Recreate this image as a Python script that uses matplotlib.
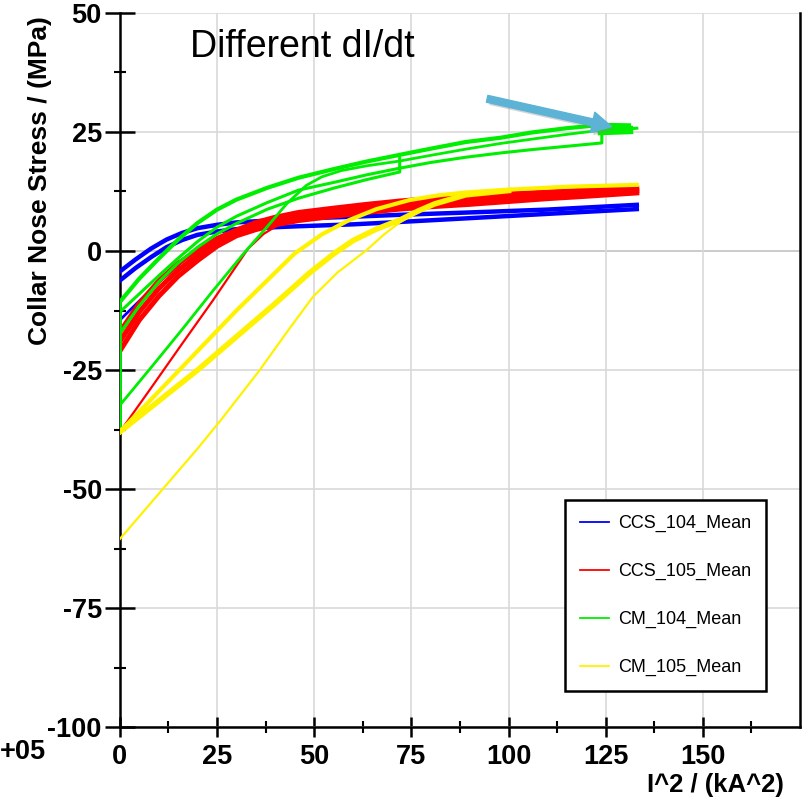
import matplotlib
matplotlib.use("Agg")
import matplotlib.pyplot as plt
from matplotlib.lines import Line2D
from matplotlib.patches import FancyArrowPatch
import matplotlib.patheffects as pe

plt.rcParams['font.family'] = ['Liberation Sans', 'DejaVu Sans']
plt.rcParams['axes.unicode_minus'] = False

# ---- data: x = I^2 (kA^2), y = stress (MPa) ----
# CCS_104 (blue)
ccs104_a_x = [0, 4, 8, 12, 16, 20, 25, 30, 40, 46, 60, 72, 90, 110, 133]
ccs104_a_y = [-4.3, -1.8, 0.5, 2.4, 3.8, 4.8, 5.5, 6.0, 6.5, 6.8, 7.2, 7.6, 8.1, 8.7, 9.7]
ccs104_b_x = [0, 4, 8, 12, 16, 20, 25, 30, 40, 46, 60, 72, 90, 110, 133]
ccs104_b_y = [-6.2, -3.6, -1.3, 0.8, 2.3, 3.4, 4.1, 4.6, 5.0, 5.2, 5.6, 6.1, 6.9, 7.8, 8.8]
ccs104_c_x = [0, 5, 10, 13, 17, 21, 25, 30, 35]
ccs104_c_y = [-14.5, -10.5, -6.5, -4.4, -1.6, 0.8, 2.8, 4.4, 5.2]

# CCS_105 (red)
ccs105_x = [0, 5, 10, 15, 20, 25, 30, 35, 40, 46, 55, 63.5, 72, 80, 90, 100, 110, 120, 133]
ccs105_a_y = [-17, -11, -6.3, -2.6, 0.2, 2.6, 4.4, 6.0, 7.1, 8.1, 9.0, 9.8, 10.5, 11.0, 11.5, 12.0, 12.4, 12.8, 13.2]
ccs105_b_y = [-21, -14.5, -9.5, -5.3, -2.0, 1.0, 3.2, 4.5, 5.5, 6.4, 7.3, 8.1, 8.8, 9.3, 9.8, 10.4, 11.0, 11.5, 12.2]
ccs105_c_y = [-19, -12.8, -7.9, -4.0, -0.9, 1.8, 3.8, 5.3, 6.3, 7.2, 8.1, 8.9, 9.6, 10.1, 10.6, 11.2, 11.7, 12.1, 12.7]
ccs105_thin_x = [0, 8, 16, 24, 33, 37, 41, 46]
ccs105_thin_y = [-38, -28.8, -19.5, -10.3, 0.5, 3.6, 5.6, 6.6]

# CM_104 (green)
cm104_up_x = [0, 5, 10, 15, 20, 25, 30, 38, 46, 55, 63.5, 72, 80, 89, 98, 106, 115, 124, 131]
cm104_up_y = [-10.7, -5.8, -1.6, 2.4, 5.9, 8.7, 10.8, 13.3, 15.4, 17.2, 18.8, 20.2, 21.5, 22.9, 23.8, 24.9, 25.8, 26.5, 26.4]
cm104_down_x = [133, 124, 124, 115, 106, 98, 89, 80, 72, 63.5, 55, 46, 38, 30, 25, 20, 15, 10, 5, 0]
cm104_down_y = [25.8, 25.2, 22.7, 22.0, 21.3, 20.6, 19.7, 18.6, 17.4, 16.0, 14.4, 12.8, 10.2, 7.3, 5.0, 2.0, -1.5, -5.2, -9.0, -12.8]
cm104_jag_x = [0, 5, 10, 15, 20, 25, 30, 38, 46, 55, 63.5, 72, 72]
cm104_jag_y = [-17.3, -11.5, -6.5, -2.5, 0.8, 3.6, 5.8, 8.8, 11.1, 13.2, 15.0, 16.6, 20.2]
cm104_steep_x = [0, 8, 16, 24, 32.6, 37.8, 43, 48, 52, 57, 63.5, 72, 80, 89, 98, 106, 115, 124, 131]
cm104_steep_y = [-32.4, -24.5, -16.5, -8.3, 0.2, 5.0, 10.0, 13.8, 15.6, 16.9, 17.9, 18.9, 20.1, 21.4, 22.6, 23.5, 24.5, 25.4, 25.6]
cm104_axis_x = [0, 0]
cm104_axis_y = [-37, -10.7]
cm104_end_x = [124, 131]
cm104_end_y = [25.2, 25.4]

# CM_105 (yellow)
cm105_up_x = [0, 10, 20, 30, 40, 45, 52, 59, 66, 74.5, 82, 89, 100, 115, 133]
cm105_up_y = [-38, -29.5, -21, -12.5, -4.5, -0.5, 3.5, 6.5, 8.8, 10.7, 11.7, 12.3, 12.9, 13.5, 13.9]
cm105_low_x = [0, 10, 20, 30, 40, 48.8, 55, 60, 66, 72, 77, 81, 89, 100]
cm105_low_y = [-38, -31.5, -25, -18, -11, -4.6, -0.6, 2.2, 4.6, 6.5, 8.5, 9.9, 11.8, 12.7]
cm105_thin_x = [0, 10, 20, 26, 36, 43, 49.6, 56, 63.5, 68, 72, 77]
cm105_thin_y = [-60.5, -51, -41.5, -35.5, -25, -17, -9.7, -4.5, 0.2, 3.5, 6.0, 8.3]

series_names = ['CCS_104_Mean', 'CCS_105_Mean', 'CM_104_Mean', 'CM_105_Mean']
series_colors = ['#0000FF', '#FF0000', '#00EE00', '#FFF200']

x_ticks = [0, 25, 50, 75, 100, 125, 150]
y_ticks = [-100, -75, -50, -25, 0, 25, 50]

arrow_start = (93.8, 32.1)
arrow_end = (127.2, 26.0)

# ---- figure ----
fig = plt.figure(figsize=(8.1, 7.97), dpi=100)
ax = fig.add_axes([0.148, 0.0878, 0.8397, 0.8959])

blue, red, green, yellow = series_colors

ax.plot(ccs104_a_x, ccs104_a_y, color=blue, lw=3.2, zorder=3)
ax.plot(ccs104_b_x, ccs104_b_y, color=blue, lw=3.2, zorder=3)
ax.plot(ccs104_c_x, ccs104_c_y, color=blue, lw=2, zorder=3)

ax.plot(ccs105_x, ccs105_a_y, color=red, lw=3.6, zorder=4)
ax.plot(ccs105_x, ccs105_b_y, color=red, lw=3.6, zorder=4)
ax.plot(ccs105_x, ccs105_c_y, color=red, lw=3.6, zorder=4)
ax.plot(ccs105_thin_x, ccs105_thin_y, color=red, lw=1.6, zorder=4)

ax.plot(cm104_up_x, cm104_up_y, color=green, lw=3, zorder=5)
ax.plot(cm104_down_x, cm104_down_y, color=green, lw=2.2, zorder=5)
ax.plot(cm104_jag_x, cm104_jag_y, color=green, lw=2.2, zorder=5)
ax.plot(cm104_steep_x, cm104_steep_y, color=green, lw=2, zorder=5)
ax.plot(cm104_axis_x, cm104_axis_y, color=green, lw=2, zorder=5)
ax.plot(cm104_end_x, cm104_end_y, color=green, lw=6, zorder=5)

ax.plot(cm105_up_x, cm105_up_y, color=yellow, lw=3, zorder=6)
ax.plot(cm105_low_x, cm105_low_y, color=yellow, lw=4, zorder=6)
ax.plot(cm105_thin_x, cm105_thin_y, color=yellow, lw=1.6, zorder=6)

# arrow pointing at the green peak
arr = FancyArrowPatch(arrow_start, arrow_end,
                      arrowstyle='simple,head_width=0.75,head_length=0.7,tail_width=0.25',
                      mutation_scale=20, color='#5CB3D6', zorder=8,
                      path_effects=[pe.SimplePatchShadow(offset=(2, -2), shadow_rgbFace='#888888', alpha=0.35),
                                    pe.Normal()])
ax.add_patch(arr)

# axes styling
ax.set_xlim(0, 175)
ax.set_ylim(-100, 50)
ax.set_xticks(x_ticks)
ax.set_yticks(y_ticks)
ax.set_xticks([12.5 + 25 * i for i in range(7)], minor=True)
ax.set_yticks([-87.5, -62.5, -37.5, -12.5, 12.5, 37.5], minor=True)
ax.tick_params(axis='both', which='major', labelsize=19.5, width=1.8, direction='inout')
ax.tick_params(axis='y', which='major', length=22, pad=2)
ax.tick_params(axis='x', which='major', length=15, pad=5)
ax.tick_params(axis='both', which='minor', direction='inout', length=8, width=1.5)
for lab in ax.get_xticklabels() + ax.get_yticklabels():
    lab.set_fontweight('bold')

ax.grid(True, which='major', color='#d9d9d9', lw=1.2, zorder=0)
ax.axhline(0, color='#808080', lw=1.3, zorder=1)
ax.spines['top'].set_visible(False)
for s in ['left', 'bottom', 'right']:
    ax.spines[s].set_linewidth(1.8)

ax.set_ylabel('Collar Nose Stress / (MPa)', fontsize=19, fontweight='bold')
ax.yaxis.set_label_coords(-0.10, 0.766)
ax.set_xlabel('I^2 / (kA^2)', fontsize=18.5, fontweight='bold')
ax.xaxis.set_label_coords(0.875, -0.064)

ax.text(0.103, 0.952, 'Different dI/dt', transform=ax.transAxes,
        fontsize=27, va='center', ha='left')
fig.text(0.0, 0.056, '+05', fontsize=19.5, fontweight='bold', va='center', ha='left')

handles = [Line2D([], [], color=c, lw=1.3) for c in series_colors]
leg = ax.legend(handles, series_names, loc='upper left', bbox_to_anchor=(0.654, 0.318),
                borderaxespad=0, fontsize=13, labelspacing=1.7, handlelength=1.6,
                handletextpad=0.5, borderpad=0.85, fancybox=False, framealpha=1,
                edgecolor='black')
leg.get_frame().set_linewidth(1.8)
leg.set_zorder(10)

fig.savefig('out.png', dpi=100)
